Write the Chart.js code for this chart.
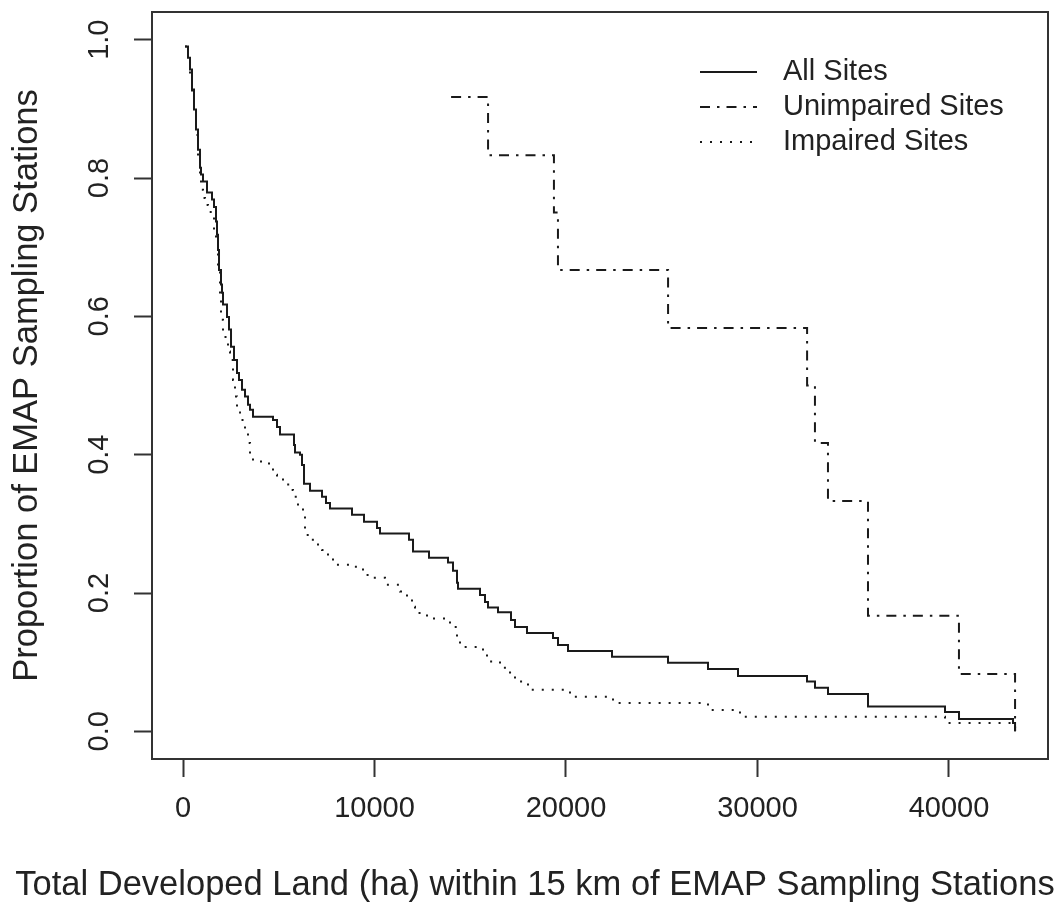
<!DOCTYPE html>
<html>
<head>
<meta charset="utf-8">
<script src="https://cdn.jsdelivr.net/npm/chart.js@4.4.1/dist/chart.umd.min.js"></script>
<style>
  body { margin: 0; background: #fff; }
</style>
</head>
<body>
<canvas id="myChart" width="1063" height="907"></canvas>
<script>
// series names
const seriesLabels = ['All Sites', 'Unimpaired Sites', 'Impaired Sites'];

// All Sites (x = developed land ha, y = proportion of stations)
const allX = [105, 261, 366, 470, 574, 679, 783, 888, 940, 1044, 1253, 1514, 1619, 1723, 1775, 1828, 1880, 1984, 2037, 2089,
  2298, 2402, 2507, 2663, 2820, 2924, 3081, 3238, 3394, 3499, 3655, 4700, 4909, 5065, 5796, 5849, 6110, 6214, 6319, 6632,
  7259, 7467, 7676, 8825, 9452, 10131, 10287, 11802, 12011, 12846, 13838, 14099, 14308, 14361, 15509, 15770, 15927, 16449,
  17128, 17337, 17963, 19321, 19583, 20105, 22402, 25327, 27415, 28982, 32585, 33003, 33682, 35771, 39792, 40523, 43343, 43450];
const allY = [0.990, 0.974, 0.957, 0.928, 0.899, 0.870, 0.841, 0.815, 0.805, 0.795, 0.779, 0.769, 0.758, 0.737, 0.718, 0.696,
  0.667, 0.646, 0.634, 0.617, 0.599, 0.581, 0.556, 0.537, 0.518, 0.508, 0.494, 0.484, 0.472, 0.465, 0.455, 0.450, 0.440,
  0.429, 0.414, 0.403, 0.400, 0.385, 0.358, 0.348, 0.339, 0.330, 0.322, 0.313, 0.303, 0.294, 0.286, 0.277, 0.260, 0.251,
  0.244, 0.232, 0.215, 0.206, 0.197, 0.187, 0.179, 0.172, 0.161, 0.151, 0.142, 0.135, 0.125, 0.116, 0.108, 0.099, 0.090,
  0.080, 0.072, 0.063, 0.054, 0.036, 0.028, 0.018, 0.012, 0.0];

// Unimpaired Sites
const unimpX = [14000, 15930, 19370, 19580, 25330, 32590, 33000, 33680, 35770, 40520, 43450];
const unimpY = [0.917, 0.833, 0.750, 0.667, 0.583, 0.500, 0.417, 0.333, 0.167, 0.083, 0.0];

// Impaired Sites
const impX = [105, 261, 366, 470, 574, 679, 783, 888, 940, 1044, 1149, 1306, 1514, 1619, 1723, 1828, 1932, 1984, 2089, 2350,
  2454, 2611, 2715, 2820, 2977, 3238, 3394, 3499, 3655, 4491, 4700, 4909, 5222, 5587, 5744, 6005, 6266, 6371, 6632, 6893,
  7259, 7572, 7833, 8877, 9400, 9765, 10548, 11332, 11697, 11958, 12115, 12742, 13943, 14308, 14465, 15666, 15875, 16554,
  17076, 17337, 18016, 20209, 22455, 27415, 29086, 39792, 43450];
const impY = [0.990, 0.972, 0.950, 0.920, 0.891, 0.862, 0.834, 0.805, 0.783, 0.771, 0.761, 0.751, 0.743, 0.725, 0.704, 0.667,
  0.624, 0.595, 0.570, 0.549, 0.537, 0.508, 0.484, 0.461, 0.450, 0.429, 0.417, 0.403, 0.390, 0.383, 0.371, 0.364, 0.357,
  0.349, 0.339, 0.325, 0.311, 0.284, 0.277, 0.270, 0.262, 0.251, 0.241, 0.238, 0.226, 0.222, 0.212, 0.202, 0.193, 0.180,
  0.171, 0.163, 0.151, 0.132, 0.122, 0.114, 0.101, 0.092, 0.085, 0.072, 0.060, 0.050, 0.041, 0.031, 0.021, 0.012, 0.0];

// axis ticks
const xTicks = [0, 10000, 20000, 30000, 40000];
const yTicks = [0, 0.2, 0.4, 0.6, 0.8, 1.0];
const xTitle = 'Total Developed Land (ha) within 15 km of EMAP Sampling Stations';
const yTitle = 'Proportion of EMAP Sampling Stations';

const ink = '#1a1a1a';
const fontFamily = "'Liberation Sans', Arial, Helvetica, sans-serif";
const toPoints = (xs, ys) => xs.map((x, i) => ({ x: x, y: ys[i] }));

Chart.defaults.font.family = fontFamily;
Chart.defaults.font.size = 29;
Chart.defaults.color = '#222';

// box around the plot region, like R's box()
const boxFrame = {
  id: 'boxFrame',
  afterDatasetsDraw(chart) {
    const { ctx, chartArea: a } = chart;
    ctx.save();
    ctx.strokeStyle = '#333';
    ctx.lineWidth = 2;
    ctx.strokeRect(a.left, a.top, a.right - a.left, a.bottom - a.top);
    ctx.restore();
  }
};

// legend without a box (top right, inside the plot) and the x axis title,
// which in the original sits left of the plot centre
const rLegend = {
  id: 'rLegend',
  afterDraw(chart) {
    const ctx = chart.ctx;
    const rows = [72, 107, 142];
    ctx.save();
    chart.data.datasets.forEach((ds, i) => {
      const y = rows[i];
      ctx.strokeStyle = ds.borderColor;
      ctx.lineWidth = ds.borderWidth;
      ctx.setLineDash(ds.borderDash || []);
      ctx.beginPath();
      ctx.moveTo(700, y);
      ctx.lineTo(757, y);
      ctx.stroke();
      ctx.setLineDash([]);
      ctx.fillStyle = '#222';
      ctx.font = '29px ' + fontFamily;
      ctx.textBaseline = 'middle';
      ctx.textAlign = 'left';
      ctx.fillText(ds.label, 783, y);
    });

    ctx.font = '34.5px ' + fontFamily;
    ctx.textAlign = 'center';
    ctx.textBaseline = 'middle';
    ctx.fillText(xTitle, 535, 885);
    ctx.restore();
  }
};

const tickGrid = {
  drawOnChartArea: false,
  drawTicks: true,
  tickLength: 18,
  tickColor: '#333',
  tickWidth: 2
};

const ctx = document.getElementById('myChart').getContext('2d');
new Chart(ctx, {
  type: 'line',
  data: {
    datasets: [
      { label: seriesLabels[0], data: toPoints(allX, allY), borderColor: ink, borderWidth: 2, borderDash: [] },
      { label: seriesLabels[1], data: toPoints(unimpX, unimpY), borderColor: ink, borderWidth: 2, borderDash: [10, 7, 2.5, 7] },
      { label: seriesLabels[2], data: toPoints(impX, impY), borderColor: ink, borderWidth: 2, borderDash: [2, 8] }
    ]
  },
  options: {
    responsive: false,
    animation: false,
    events: [],
    layout: { padding: { left: 0, top: 12, right: 15, bottom: 0 } },
    elements: {
      point: { radius: 0 },
      line: { stepped: 'before', tension: 0, fill: false }
    },
    plugins: {
      legend: { display: false },
      tooltip: { enabled: false }
    },
    scales: {
      x: {
        type: 'linear',
        position: 'bottom',
        min: -1619,
        max: 45170,
        afterBuildTicks: s => { s.ticks = xTicks.map(v => ({ value: v })); },
        afterFit: s => { s.height = 148; s.paddingLeft = 0; s.paddingRight = 0; },
        border: { display: false },
        grid: tickGrid,
        ticks: { padding: 15, maxRotation: 0, autoSkip: false, callback: v => String(v) },
        title: { display: false }
      },
      y: {
        type: 'linear',
        min: -0.04,
        max: 1.04,
        afterBuildTicks: s => { s.ticks = yTicks.map(v => ({ value: v })); },
        afterFit: s => { s.width = 152; s.paddingTop = 0; s.paddingBottom = 0; },
        border: { display: false },
        grid: tickGrid,
        ticks: { padding: 14, minRotation: 90, maxRotation: 90, crossAlign: 'center', autoSkip: false, callback: v => v.toFixed(1) },
        title: {
          display: true,
          text: yTitle,
          font: { size: 34.5 },
          padding: { top: 7, bottom: 0 }
        }
      }
    }
  },
  plugins: [boxFrame, rLegend]
});
</script>
</body>
</html>
